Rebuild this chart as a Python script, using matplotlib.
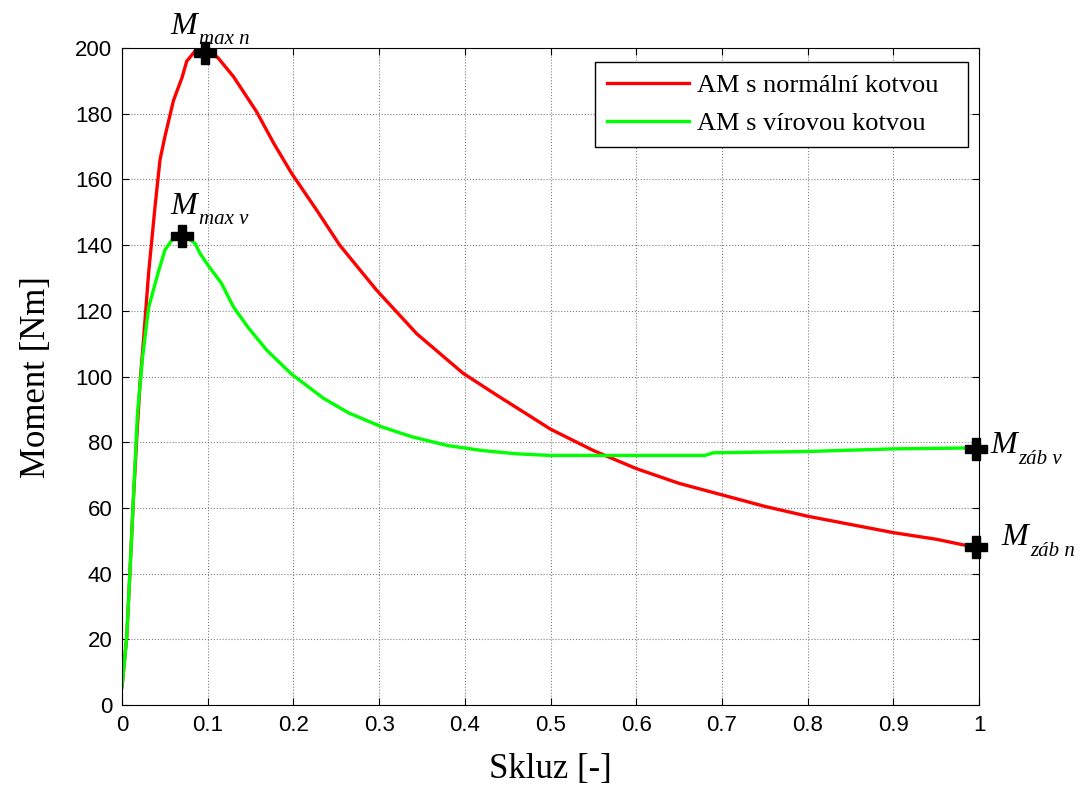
import numpy as np
import matplotlib
matplotlib.use("Agg")
from matplotlib import pyplot as plt

# data
skluz_n = [0, 0.0055, 0.0093, 0.013, 0.017, 0.021, 0.025, 0.031, 0.0385, 0.0443, 0.05,
           0.06, 0.07, 0.0755, 0.085, 0.097, 0.105, 0.112, 0.13, 0.157, 0.177, 0.198,
           0.227, 0.254, 0.297, 0.344, 0.398, 0.437, 0.5, 0.55, 0.6, 0.65, 0.7, 0.75,
           0.8, 0.85, 0.9, 0.95, 0.996]
moment_n = [5.6, 20.8, 41, 61.5, 80.7, 98, 111, 131.5, 151.7, 166, 173,
            184, 191, 196, 199, 199, 198.5, 197, 191.3, 180.6, 171, 161.8,
            150.7, 140, 126.3, 113, 101, 94.4, 84, 77.5, 72, 67.5, 64, 60.5,
            57.5, 55, 52.5, 50.5, 48]

skluz_v = [0, 0.0055, 0.0093, 0.013, 0.018, 0.024, 0.031, 0.042, 0.05, 0.058, 0.068,
           0.077, 0.085, 0.091, 0.1, 0.116, 0.13, 0.147, 0.169, 0.198, 0.235, 0.264,
           0.303, 0.338, 0.38, 0.42, 0.46, 0.5, 0.6, 0.68, 0.69, 0.8, 0.9, 0.996]
moment_v = [5.6, 20.8, 41, 61.5, 88.8, 106, 121, 131.5, 138.5, 141.5, 142.5,
            142, 140.6, 137.5, 134, 128.4, 121.2, 115, 108, 100.7, 93.4, 89,
            84.7, 81.7, 79, 77.5, 76.5, 76, 76, 76, 76.8, 77.2, 78, 78.3]

body_x = [0.097, 0.07, 0.996, 0.996]
body_y = [198.5, 142.8, 78, 48]
body_sub = ["max n", "max v", "záb v", "záb n"]
body_pos = [(0.056, 204.3), (0.056, 149.5), (1.013, 76.7), (1.0265, 48.7)]

fig = plt.figure(figsize=(10.8, 7.87), dpi=100)
ax = fig.add_axes([0.113, 0.104, 0.7935, 0.835])

ax.plot(skluz_n, moment_n, color="#ff0000", lw=2.4, label="AM s normální kotvou")
ax.plot(skluz_v, moment_v, color="#00ff00", lw=2.4, label="AM s vírovou kotvou")
ax.plot(body_x, body_y, "P", color="black", ms=16, mec="black", zorder=5, clip_on=False)

for (tx, ty), s in zip(body_pos, body_sub):
    ax.text(tx, ty, "M", fontsize=23, family="Liberation Serif", style="italic",
            va="baseline", ha="left", clip_on=False)
    ax.annotate(s, xy=(tx, ty), xytext=(20.5, -7.5), textcoords="offset points",
                fontsize=15, family="Liberation Serif", style="italic",
                va="baseline", ha="left", annotation_clip=False)

ax.set_xlim(0, 1)
ax.set_ylim(0, 200)
ax.set_xticks(np.arange(0, 1.01, 0.1))
ax.set_xticklabels(["0", "0.1", "0.2", "0.3", "0.4", "0.5", "0.6", "0.7", "0.8", "0.9", "1"])
ax.set_yticks(np.arange(0, 201, 20))
ax.tick_params(direction="in", top=True, right=True, labelsize=16, length=5, pad=7)
for lab in ax.get_xticklabels() + ax.get_yticklabels():
    lab.set_family("Liberation Sans")
ax.grid(True, color="gray", linestyle=":", linewidth=0.8)

ax.set_xlabel("Skluz [-]", fontsize=25, family="Liberation Serif", labelpad=12)
ax.set_ylabel("Moment [Nm]", fontsize=25, family="Liberation Serif", labelpad=16)

leg = ax.legend(loc="upper left", bbox_to_anchor=(0.552, 0.852, 0.435, 0.127),
                mode="expand", borderaxespad=0, fancybox=False,
                edgecolor="black", framealpha=1, handlelength=3.1, handletextpad=0.3,
                prop={"family": "Liberation Serif", "size": 19}, borderpad=0.45,
                labelspacing=0.54)
leg.get_frame().set_linewidth(1.0)

fig.savefig("out.png", dpi=100)
